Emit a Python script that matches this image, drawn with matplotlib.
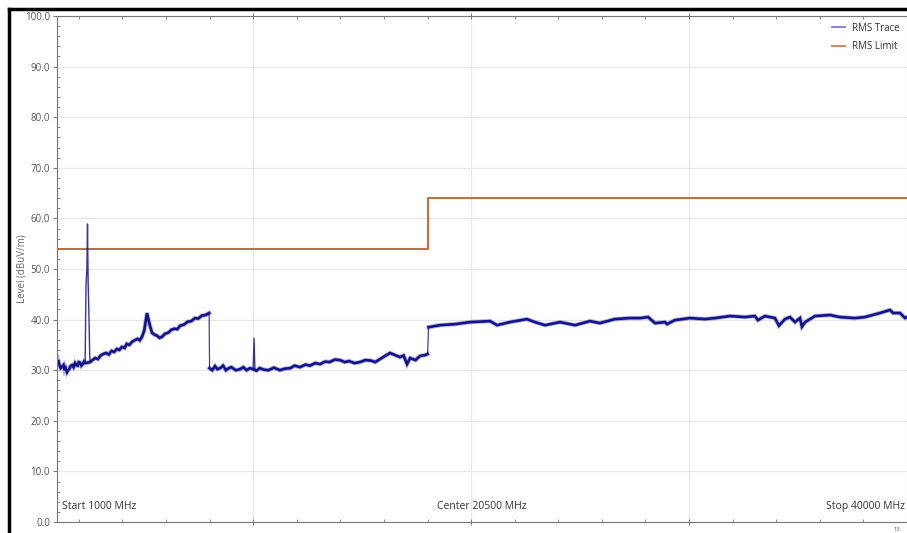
import numpy as np
import matplotlib
matplotlib.use("Agg")
import matplotlib.pyplot as plt
from matplotlib.lines import Line2D
from matplotlib.ticker import MultipleLocator, FormatStrFormatter

plt.rcParams['font.family'] = ['Open Sans', 'DejaVu Sans']

# measured RMS trace, split by receiver band (MHz, dBuV/m)
band1_freq = [1000, 1050, 1100, 1170, 1230, 1300, 1350, 1400, 1460, 1510, 1560, 1620,
              1690, 1760, 1830, 1890, 1950, 2000, 2060, 2120, 2180, 2240, 2290,
              2520, 2600, 2750, 2880, 3000, 3120, 3250, 3380, 3500, 3620, 3750, 3860,
              3980, 4100, 4200, 4320, 4440, 4560, 4700, 4800, 4900, 5000,
              5130, 5250, 5360, 5480, 5600, 5700, 5820, 5950, 6100, 6250, 6400, 6520,
              6650, 6820, 7000, 7160, 7330, 7480, 7650, 7820, 7980]
band1_level = [31.6, 32.0, 31.2, 30.4, 30.6, 31.0, 30.0, 30.4, 29.6, 30.0, 30.2, 30.8,
               31.0, 30.6, 31.4, 31.0, 30.9, 31.6, 31.5, 30.9, 31.2, 31.7, 31.4,
               31.6, 31.9, 32.4, 32.2, 32.9, 33.2, 33.4, 33.1, 33.8, 33.6, 34.2, 34.0,
               34.6, 34.4, 35.2, 35.0, 35.6, 35.9, 36.2, 35.9, 36.6, 37.8,
               41.3, 39.0, 37.4, 37.0, 36.8, 36.4, 36.6, 37.2, 37.4, 38.0, 38.2, 38.1,
               38.8, 39.0, 39.6, 39.7, 40.3, 40.2, 40.8, 40.9, 41.3]

band2_freq = [8000, 8120, 8250, 8360, 8480, 8620, 8750, 8880, 9000, 9200, 9400, 9550,
              9700, 9850, 10000, 10150, 10300, 10500, 10700, 10950, 11230, 11450,
              11700, 11900, 12150, 12400, 12600, 12850, 13070, 13300, 13500, 13750,
              13980, 14200, 14400, 14650, 14900, 15150, 15400, 15600, 15820,
              16050, 16280, 16500, 16740, 16900, 17060, 17200, 17450, 17650, 17900, 18000]
band2_level = [30.4, 30.0, 30.8, 30.2, 30.4, 30.9, 30.0, 30.4, 30.6, 30.0, 30.2, 30.6,
               30.0, 30.4, 30.2, 29.9, 30.4, 30.1, 30.0, 30.5, 30.0, 30.3,
               30.4, 30.9, 30.6, 31.1, 30.9, 31.4, 31.2, 31.7, 31.6, 32.1,
               32.0, 31.6, 31.8, 31.4, 31.6, 32.0, 31.9, 31.6, 32.2,
               32.8, 33.4, 33.0, 32.6, 32.9, 31.2, 32.4, 32.0, 32.8, 33.0, 33.2]

band3_freq = [18050, 18570, 19260, 19950, 20870, 21190, 21780, 22560, 22930, 23390,
              24080, 24770, 25450, 25910, 26600, 27290, 27750, 28120, 28440, 28900,
              28990, 29350, 30040, 30730, 31190, 31880, 32570, 33020, 33160, 33480,
              33940, 34125, 34400, 34630, 34860, 35090, 35180, 35320, 35780, 36470,
              36920, 37610, 38070, 38760, 39220, 39360, 39680, 39910, 40000]
band3_level = [38.5, 38.9, 39.1, 39.5, 39.7, 38.9, 39.5, 40.1, 39.5, 38.9,
               39.5, 38.9, 39.7, 39.3, 40.1, 40.3, 40.3, 40.5, 39.3, 39.5,
               39.1, 39.9, 40.3, 40.1, 40.3, 40.7, 40.5, 40.7, 39.9, 40.7,
               40.3, 38.8, 40.1, 40.5, 39.5, 40.3, 38.6, 39.5, 40.7, 40.9,
               40.5, 40.3, 40.5, 41.3, 41.9, 41.3, 41.3, 40.3, 40.5]

# narrow emissions
spike1_freq = [2290, 2330, 2370, 2400, 2410, 2430, 2470, 2500, 2520]
spike1_level = [31.4, 46.5, 50.0, 58.9, 54.3, 47.0, 40.0, 33.0, 31.6]
spike2_freq = [10000, 10040, 10080]
spike2_level = [30.2, 36.3, 30.3]

# limit line
limit_freq = [1000, 18000, 18000, 40000]
limit_level = [54.0, 54.0, 64.0, 64.0]

trace_col = '#12128c'
limit_col = '#bf7040'
txt_col = '#555555'

fig = plt.figure(figsize=(9.07, 5.33), dpi=100)
ax = fig.add_axes([57 / 907, 11 / 533, 850 / 907, 506 / 533])

ax.grid(True, which='major', color='#e6e6e6', lw=0.8)
ax.set_axisbelow(True)

ax.plot(limit_freq, limit_level, color=limit_col, lw=1.5)

for f, l in [(band1_freq, band1_level), (band2_freq, band2_level), (band3_freq, band3_level)]:
    ax.plot(f, l, color='#5a5ab8', lw=3.2, alpha=0.45, solid_joinstyle='miter')
    ax.plot(f, l, color=trace_col, lw=1.9, solid_joinstyle='miter')
for f, l in [(spike1_freq, spike1_level), (spike2_freq, spike2_level)]:
    ax.plot(f, l, color=trace_col, lw=1.0, alpha=0.85)
# band transitions
ax.plot([band1_freq[-1], band2_freq[0]], [band1_level[-1], band2_level[0]], color=trace_col, lw=0.9, alpha=0.8)
ax.plot([band2_freq[-1], band3_freq[0]], [band2_level[-1], band3_level[0]], color=trace_col, lw=0.9, alpha=0.8)

ax.set_xlim(1000, 40000)
ax.set_ylim(0, 100)

ax.yaxis.set_major_locator(MultipleLocator(10))
ax.yaxis.set_minor_locator(MultipleLocator(2))
ax.yaxis.set_major_formatter(FormatStrFormatter('%.1f'))
ax.xaxis.set_major_locator(MultipleLocator(10000))
ax.xaxis.set_minor_locator(MultipleLocator(2000))
ax.set_xticklabels([])
ax.tick_params(axis='y', which='major', direction='out', length=3, width=0.7,
               colors='#777777', labelcolor=txt_col, labelsize=7, pad=2)
ax.tick_params(axis='y', which='minor', direction='in', length=2, width=0.6, colors='#777777')
ax.tick_params(axis='x', which='major', direction='inout', length=4, width=0.7,
               colors='#777777', top=True)
ax.tick_params(axis='x', which='minor', direction='in', length=2, width=0.6,
               colors='#777777', top=True)

for side in ['left', 'bottom', 'top']:
    ax.spines[side].set_color('#777777')
    ax.spines[side].set_linewidth(0.8)
ax.spines['right'].set_visible(False)

ax.set_ylabel('Level (dBuV/m)', fontsize=7, color='#666666')
ax.yaxis.set_label_coords(-29 / 850, 0.5)

ax.text(1250, 2.0, 'Start 1000 MHz', fontsize=7.5, color='#333333', ha='left', va='bottom')
ax.text(20500, 2.0, 'Center 20500 MHz', fontsize=7.5, color='#333333', ha='center', va='bottom')
ax.text(39900, 2.0, 'Stop 40000 MHz', fontsize=7.5, color='#333333', ha='right', va='bottom')

handles = [Line2D([], [], color='#6f6fcc', lw=1.2), Line2D([], [], color=limit_col, lw=1.5, alpha=0.8)]
ax.legend(handles, ['RMS Trace', 'RMS Limit'], loc='upper right', frameon=False,
          fontsize=7, labelcolor='#333333', handlelength=1.3, borderaxespad=0.3,
          bbox_to_anchor=(1.0, 1.0), labelspacing=0.75)

# screenshot frame
fig.add_artist(Line2D([9 / 907, 9 / 907], [0, 1 - 9 / 533], transform=fig.transFigure, color='black', lw=2.5))
fig.add_artist(Line2D([9 / 907, 1], [1 - 9 / 533, 1 - 9 / 533], transform=fig.transFigure, color='black', lw=2.5))
fig.text(894 / 907, 2 / 533, '13:', fontsize=4, color='#555555')

fig.savefig('out.png', dpi=100)
